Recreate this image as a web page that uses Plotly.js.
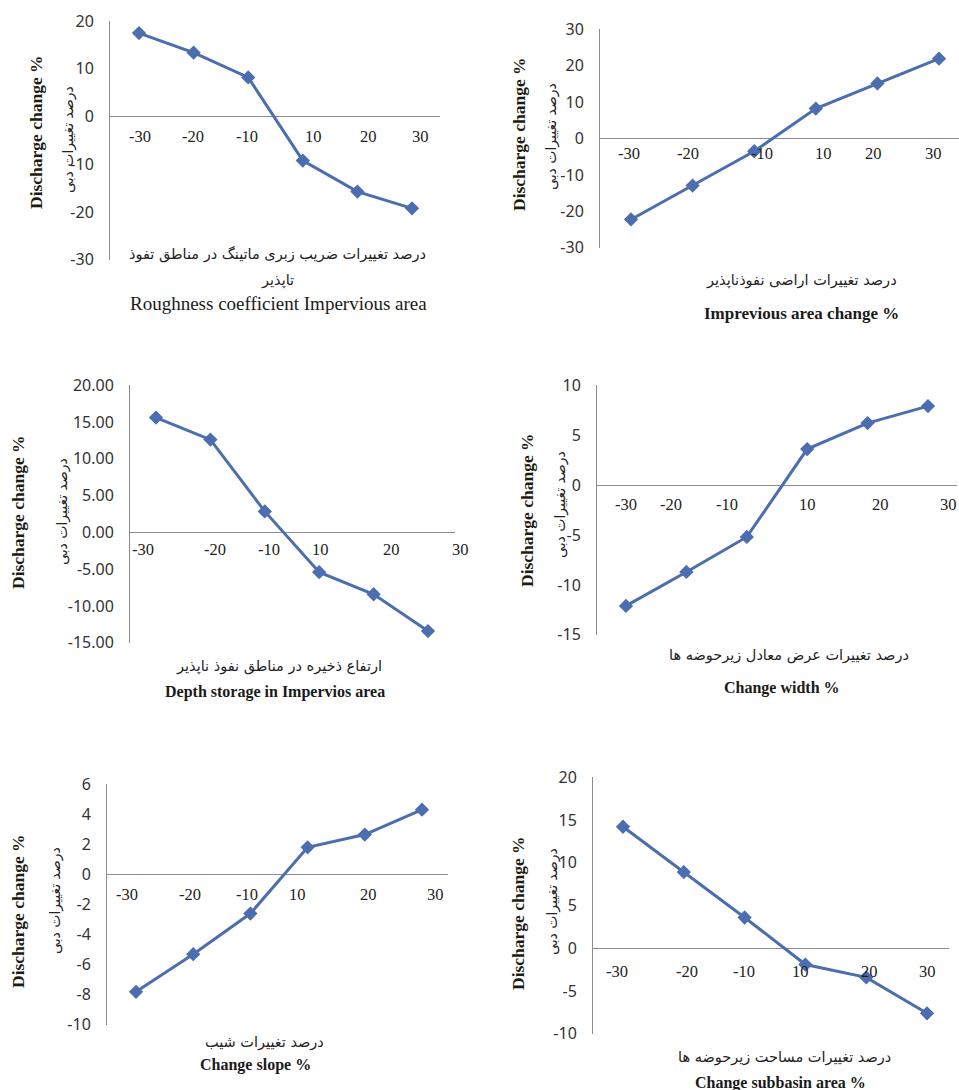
<!DOCTYPE html>
<html><head><meta charset="utf-8">
<script src="https://cdn.plot.ly/plotly-3.0.1.min.js"></script>
<style>html,body{margin:0;padding:0;background:#fff}#chart{width:959px;height:1090px}</style>
</head><body><div id="chart"></div>
<script>
// ---- data ----
const categories = ['-30', '-20', '-10', '10', '20', '30'];
const roughnessValues = [17.5, 13.4, 8.2, -9.2, -15.7, -19.2];
const imperviousValues = [-22.2, -12.9, -3.5, 8.2, 15.1, 21.9];
const depthStorageValues = [15.6, 12.6, 2.85, -5.4, -8.4, -13.4];
const widthValues = [-12.1, -8.7, -5.2, 3.6, 6.2, 7.9];
const slopeValues = [-7.8, -5.3, -2.6, 1.8, 2.65, 4.3];
const subbasinValues = [14.2, 8.9, 3.6, -1.9, -3.4, -7.6];

const yTitleEn = 'Discharge change %';
const yTitleFa = 'درصد تغییرات دبی';
const xTitlesFa = [
  ['درصد تغییرات ضریب زبری ماتینگ در مناطق تفوذ', 'تاپذیر'],
  ['درصد تغییرات اراضی نفوذناپذیر'],
  ['ارتفاع ذخیره در مناطق نفوذ ناپذیر'],
  ['درصد تغییرات عرض معادل زیرحوضه ها'],
  ['درصد تغییرات شیب'],
  ['درصد تغییرات مساحت زیرحوضه ها']
];
const xTitlesEn = [
  'Roughness coefficient Impervious area',
  'Imprevious area change %',
  'Depth storage in Impervios area',
  'Change width %',
  'Change slope %',
  'Change subbasin area %'
];
const seriesList = [roughnessValues, imperviousValues, depthStorageValues, widthValues, slopeValues, subbasinValues];

// ---- layout geometry (pixels) ----
const W = 959, H = 1090;
const panels = [
  {l:110, r:440, t:21, b:260, first:139, cw:54.6, y:[-30,20], dt:10, dec:0, lblY:20, lblDx:[1,-1,-1,11,11,8],
   yEn:[36,132], yFa:[68,140], faY:[254,280], faX:277, enY:303, enX:278, enBold:false, enSize:19},
  {l:600, r:959, t:29, b:248, first:631, cw:61.6, y:[-30,30], dt:10, dec:0, lblY:15, lblDx:[-2,-5,8,8,-4,-6],
   yEn:[519,134], yFa:[552,137], faY:[280], faX:801, enY:313, enX:801, enBold:true, enSize:17},
  {l:130, r:455, t:385, b:643, first:156, cw:54.4, y:[-15,20], dt:5, dec:2, lblY:17, lblDx:[-13,5,4,1,18,32],
   yEn:[18,512], yFa:[62,512], faY:[666], faX:279, enY:692, enX:275, enBold:true, enSize:16},
  {l:597, r:957, t:385, b:635, first:626, cw:60.4, y:[-15,10], dt:5, dec:0, lblY:19, lblDx:[0,-15,-20,0,13,20],
   yEn:[527,510], yFa:[560,505], faY:[655], faX:789, enY:688, enX:782, enBold:true, enSize:16},
  {l:107, r:448, t:784, b:1025, first:136, cw:57.2, y:[-10,6], dt:2, dec:0, lblY:20, lblDx:[-9,-3,-3,-10,4,13],
   yEn:[18,911], yFa:[55,901], faY:[1042], faX:264, enY:1065, enX:255, enBold:true, enSize:16},
  {l:593, r:949, t:777, b:1034, first:623, cw:60.8, y:[-10,20], dt:5, dec:0, lblY:23, lblDx:[-6,3,-1,-5,3,0],
   yEn:[518,913], yFa:[552,902], faY:[1057], faX:784, enY:1083, enX:780, enBold:true, enSize:16}
];

const lineColor = '#4c6daf';
const axisColor = '#8c8c8c';
const serif = '"Liberation Serif", "Times New Roman", serif';
const sans = '"Noto Sans", "Open Sans", sans-serif';
const faFont = '"DejaVu Sans", "Noto Sans", sans-serif';

const data = [];
const layout = {
  width: W, height: H, margin: {l:0, r:0, t:0, b:0},
  paper_bgcolor: '#fff', plot_bgcolor: 'rgba(0,0,0,0)',
  showlegend: false, annotations: []
};

panels.forEach((p, i) => {
  const n = i + 1;
  const xa = 'x' + (n === 1 ? '' : n), ya = 'y' + (n === 1 ? '' : n);
  const r0 = -(p.first - p.l) / p.cw;
  const r1 = r0 + (p.r - p.l) / p.cw;
  data.push({
    type: 'scatter', mode: 'lines+markers',
    x: categories, y: seriesList[i], xaxis: xa, yaxis: ya,
    line: {color: lineColor, width: 3},
    marker: {symbol: 'diamond', size: 11, color: lineColor},
    hoverinfo: 'skip'
  });
  layout['xaxis' + (n === 1 ? '' : n)] = {
    domain: [p.l / W, p.r / W], type: 'category', range: [r0, r1],
    anchor: ya, visible: false, fixedrange: true
  };
  const tv = [], tt = [];
  for (let v = p.y[0]; v <= p.y[1] + 1e-9; v += p.dt) { tv.push(v); tt.push(v.toFixed(p.dec)); }
  const eps = (p.y[1] - p.y[0]) * 0.0005;
  layout['yaxis' + (n === 1 ? '' : n)] = {
    domain: [1 - p.b / H, 1 - p.t / H], range: [p.y[0] - eps, p.y[1] + eps],
    anchor: xa, tickmode: 'array', tickvals: tv, ticktext: tt,
    showline: true, linecolor: axisColor, linewidth: 1,
    showgrid: false, zeroline: true, zerolinecolor: axisColor, zerolinewidth: 1,
    ticks: '', ticklabelstandoff: 12,
    tickfont: {family: sans, size: 16, color: '#333'}, fixedrange: true
  };
  // category labels along the zero line
  categories.forEach((c, k) => {
    layout.annotations.push({
      x: k, y: 0, xref: xa, yref: ya, text: c, showarrow: false,
      xanchor: 'center', yanchor: 'middle', xshift: p.lblDx[k], yshift: -p.lblY,
      font: {family: serif, size: 16.5, color: '#222'}
    });
  });
  // y titles
  layout.annotations.push({
    x: p.yEn[0] / W, y: 1 - p.yEn[1] / H, xref: 'paper', yref: 'paper',
    text: '<b>' + yTitleEn + '</b>', textangle: -90, showarrow: false,
    xanchor: 'center', yanchor: 'middle', font: {family: serif, size: 17.5, color: '#1c1c10'}
  });
  layout.annotations.push({
    x: p.yFa[0] / W, y: 1 - p.yFa[1] / H, xref: 'paper', yref: 'paper',
    text: yTitleFa, textangle: -90, showarrow: false,
    xanchor: 'center', yanchor: 'middle', font: {family: faFont, size: 14, color: '#222'}
  });
  // x titles
  xTitlesFa[i].forEach((t, k) => {
    layout.annotations.push({
      x: p.faX / W, y: 1 - p.faY[k] / H, xref: 'paper', yref: 'paper',
      text: t, showarrow: false, xanchor: 'center', yanchor: 'middle',
      font: {family: faFont, size: 14.5, color: '#222'}
    });
  });
  layout.annotations.push({
    x: p.enX / W, y: 1 - p.enY / H, xref: 'paper', yref: 'paper',
    text: p.enBold ? '<b>' + xTitlesEn[i] + '</b>' : xTitlesEn[i], showarrow: false,
    xanchor: 'center', yanchor: 'middle',
    font: {family: serif, size: p.enSize, color: '#1a1a1a'}
  });
});

Plotly.newPlot('chart', data, layout, {displayModeBar: false, staticPlot: true});
</script></body></html>
